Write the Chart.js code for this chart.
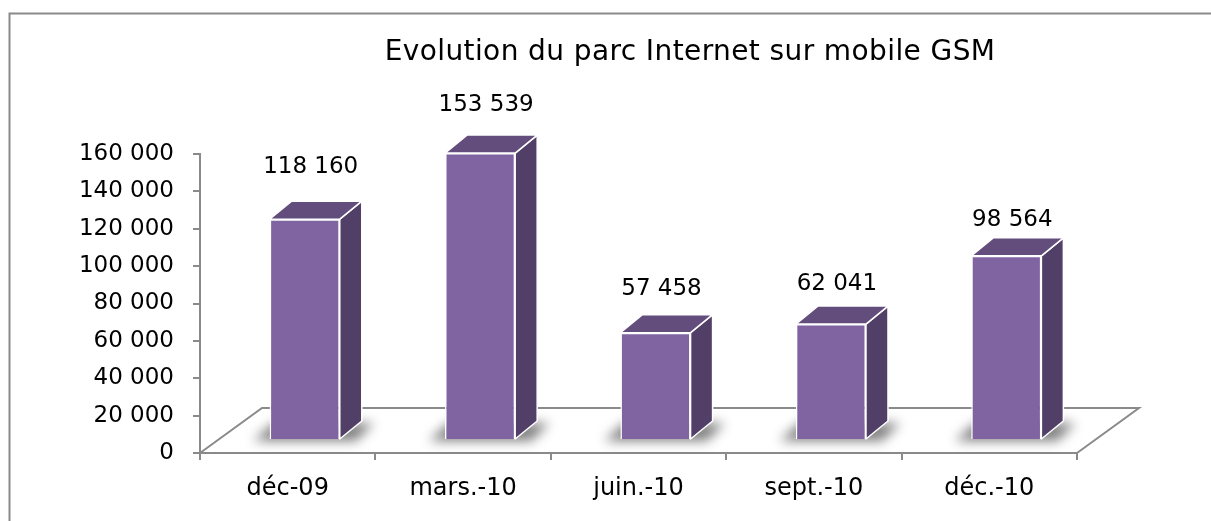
<!DOCTYPE html>
<html>
<head>
<meta charset="utf-8">
<script src="https://cdn.jsdelivr.net/npm/chart.js@4.4.1/dist/chart.umd.min.js"></script>
<style>
  html, body { margin: 0; padding: 0; background: #fff; overflow: hidden; }
  #wrap { width: 1211px; height: 521px; position: relative; }
</style>
</head>
<body>
<div id="wrap"><canvas id="chart" width="1211" height="521"></canvas></div>
<script>
// Evolution du parc Internet sur mobile GSM
const categories = ['déc-09', 'mars.-10', 'juin.-10', 'sept.-10', 'déc.-10'];
const parcValues = [118160, 153539, 57458, 62041, 98564];
const yTicks = [0, 20000, 40000, 60000, 80000, 100000, 120000, 140000, 160000];
const chartTitle = 'Evolution du parc Internet sur mobile GSM';

const FONT = "'DejaVu Sans', sans-serif";
const AXIS_GREY = '#8a8a8a';

// 3D look
const FRONT_SHIFT = { x: 17, y: -13 };  // bar front face sits a bit inside the floor
const BAR_DEPTH = { x: 22, y: -18 };
const FLOOR_DEPTH = { x: 62, y: -45 };

function fmt(v) {
    return String(v).replace(/\B(?=(\d{3})+(?!\d))/g, ' ');
}

const frameAndFloor = {
    id: 'frameAndFloor',
    beforeDraw(chart) {
        const ctx = chart.ctx;
        ctx.save();
        ctx.strokeStyle = AXIS_GREY;
        ctx.lineWidth = 2;
        ctx.beginPath();
        ctx.moveTo(9.5, 521);
        ctx.lineTo(9.5, 13.5);
        ctx.lineTo(1211, 13.5);
        ctx.stroke();

        ctx.fillStyle = '#000';
        ctx.font = '28px ' + FONT;
        ctx.letterSpacing = '0.4px';
        ctx.textAlign = 'center';
        ctx.textBaseline = 'middle';
        ctx.fillText(chartTitle, 690, 53);
        ctx.restore();
    },
    beforeDatasetsDraw(chart) {
        const ctx = chart.ctx;
        const a = chart.chartArea;
        ctx.save();
        // floor outline
        ctx.strokeStyle = AXIS_GREY;
        ctx.lineWidth = 2;
        ctx.beginPath();
        ctx.moveTo(a.left, a.bottom);
        ctx.lineTo(a.left + FLOOR_DEPTH.x, a.bottom + FLOOR_DEPTH.y);
        ctx.lineTo(a.right + FLOOR_DEPTH.x, a.bottom + FLOOR_DEPTH.y);
        ctx.lineTo(a.right, a.bottom);
        ctx.stroke();

        // soft shadows under the bars
        const meta = chart.getDatasetMeta(0);
        ctx.filter = 'blur(6px)';
        ctx.fillStyle = 'rgba(0,0,0,0.5)';
        meta.data.forEach(el => {
            const p = el.getProps(['x', 'base', 'width'], true);
            const x0 = p.x - p.width / 2 + FRONT_SHIFT.x;
            const b = p.base + FRONT_SHIFT.y;
            ctx.beginPath();
            ctx.moveTo(x0 - 16, b + 2);
            ctx.lineTo(x0 + p.width + 16, b + 2);
            ctx.lineTo(x0 + p.width + 34, b - 16);
            ctx.lineTo(x0 + 4, b - 16);
            ctx.closePath();
            ctx.fill();
        });
        ctx.filter = 'none';
        ctx.restore();

        // front faces are drawn by Chart.js, moved into the floor
        ctx.save();
        ctx.translate(FRONT_SHIFT.x, FRONT_SHIFT.y);
    },
    afterDatasetsDraw(chart) {
        const ctx = chart.ctx;
        const meta = chart.getDatasetMeta(0);
        ctx.lineWidth = 1.5;
        ctx.strokeStyle = '#ffffff';
        ctx.lineJoin = 'round';
        meta.data.forEach(el => {
            const p = el.getProps(['x', 'y', 'base', 'width'], true);
            const x0 = p.x - p.width / 2;
            const x1 = p.x + p.width / 2;
            // side
            ctx.beginPath();
            ctx.moveTo(x1, p.y);
            ctx.lineTo(x1 + BAR_DEPTH.x, p.y + BAR_DEPTH.y);
            ctx.lineTo(x1 + BAR_DEPTH.x, p.base + BAR_DEPTH.y);
            ctx.lineTo(x1, p.base);
            ctx.closePath();
            ctx.fillStyle = '#523f68';
            ctx.fill();
            ctx.stroke();
            // top
            ctx.beginPath();
            ctx.moveTo(x0, p.y);
            ctx.lineTo(x1, p.y);
            ctx.lineTo(x1 + BAR_DEPTH.x, p.y + BAR_DEPTH.y);
            ctx.lineTo(x0 + BAR_DEPTH.x, p.y + BAR_DEPTH.y);
            ctx.closePath();
            ctx.fillStyle = '#634d7c';
            ctx.fill();
            ctx.stroke();
        });
        ctx.restore();

        // value labels
        ctx.save();
        ctx.fillStyle = '#000';
        ctx.font = '23px ' + FONT;
        ctx.textAlign = 'center';
        ctx.textBaseline = 'middle';
        meta.data.forEach((el, i) => {
            const p = el.getProps(['x', 'y'], true);
            const gap = 52 - 4 * i;
            ctx.fillText(fmt(parcValues[i]), p.x + FRONT_SHIFT.x + 6, p.y + FRONT_SHIFT.y - gap);
        });
        ctx.restore();
    }
};

new Chart(document.getElementById('chart'), {
    type: 'bar',
    data: {
        labels: categories,
        datasets: [{
            label: 'Parc Internet mobile GSM',
            data: parcValues,
            backgroundColor: '#8064a2',
            borderColor: '#ffffff',
            borderWidth: 1.5,
            categoryPercentage: 1,
            barPercentage: 0.4,
            clip: false
        }]
    },
    options: {
        responsive: false,
        animation: false,
        layout: { padding: { left: 0, right: 134, top: 154, bottom: 0 } },
        plugins: {
            legend: { display: false },
            tooltip: { enabled: false },
            title: { display: false }
        },
        scales: {
            x: {
                grid: { drawOnChartArea: false, drawTicks: true, tickLength: 7, color: AXIS_GREY, lineWidth: 2 },
                border: { display: true, color: AXIS_GREY, width: 2 },
                ticks: { color: '#000', font: { family: FONT, size: 24 }, padding: 14, maxRotation: 0 },
                afterFit(scale) { scale.height = 68; }
            },
            y: {
                min: 0,
                max: 160000,
                afterBuildTicks(scale) { scale.ticks = yTicks.map(v => ({ value: v })); },
                grid: { drawOnChartArea: false, drawTicks: true, tickLength: 7, color: AXIS_GREY, lineWidth: 2 },
                border: { display: true, color: AXIS_GREY, width: 2 },
                ticks: { color: '#000', font: { family: FONT, size: 23 }, padding: 19, callback: v => fmt(v) },
                afterFit(scale) { scale.width = 200; }
            }
        }
    },
    plugins: [frameAndFloor]
});
</script>
</body>
</html>
